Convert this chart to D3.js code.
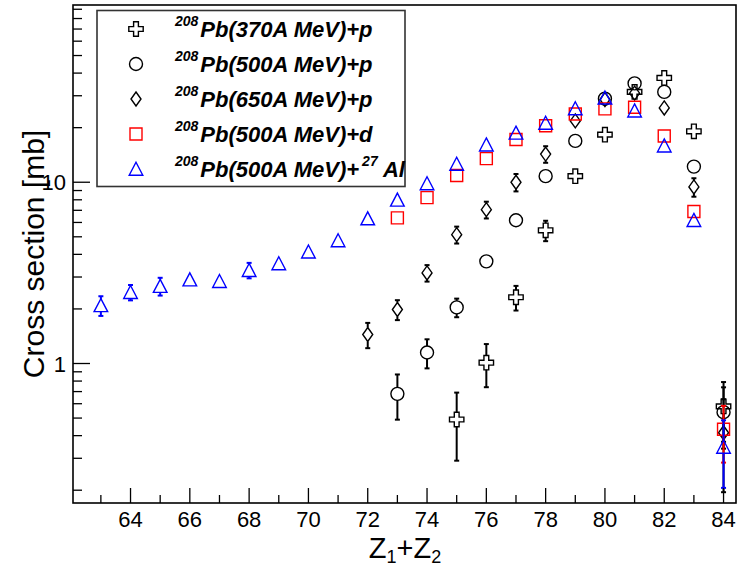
<!DOCTYPE html>
<html><head><meta charset="utf-8">
<script src="https://cdn.jsdelivr.net/npm/d3@7"></script>
<style>body{margin:0;background:#fff}svg{display:block}text{font-family:"Liberation Sans",Arial,Helvetica,sans-serif}</style>
</head><body>
<svg id="c" width="738" height="566"></svg>
<script>
// ---- data ----
const zCross = [75,76,77,78,79,80,81,82,83,84];
const vCross = [0.491,1.01,2.32,5.43,10.8,18.3,31.5,37.6,19.1,0.58];
const eCross = [0.2,0.27,0.36,0.7,0.6,0.9,1.5,1.8,1.0,0.21];

const zCircle = [73,74,75,76,77,78,79,80,81,82,83,84];
const vCircle = [0.68,1.15,2.04,3.66,6.17,10.8,16.9,28.9,35.1,31.5,12.2,0.539];
const eCircle = [0.19,0.21,0.24,0.2,0.3,0.5,0.8,1.4,1.7,1.5,0.6,0.2];

const zDiamond = [72,73,74,75,76,77,78,79,80,81,82,83,84];
const vDiamond = [1.445,1.985,3.16,5.14,7.06,10.0,14.3,21.8,28.6,31.0,25.7,9.42,0.415];
const eDiamond = [0.23,0.25,0.33,0.55,0.75,1.1,1.5,1.8,2.0,2.0,1.8,1.1,0.22];

const zSquare = [73,74,75,76,77,78,79,80,81,82,83,84];
const vSquare = [6.36,8.22,10.9,13.5,17.2,20.5,23.8,25.4,25.9,18.0,6.89,0.434];
const eSquare = [0.4,0.5,0.6,0.8,1.0,1.2,1.4,1.5,1.5,1.1,0.45,0.15];

const zTri = [63,64,65,66,67,68,69,70,71,72,73,74,75,76,77,78,79,80,81,82,83,84];
const vTri = [2.09,2.47,2.67,2.90,2.84,3.27,3.56,4.13,4.77,6.3,7.99,9.83,12.6,16.1,18.7,21.2,25.5,29.2,24.8,15.9,6.17,0.346];
const eTri = [0.26,0.24,0.3,0.1,0.1,0.32,0.15,0.12,0.12,0.2,0.3,0.4,0.5,0.6,0.7,0.8,1.0,1.1,1.0,0.6,0.25,0.14];

const xTicks = [64,66,68,70,72,74,76,78,80,82,84];
const yTickLabels = [1,10];
const legendLabels = [
  ["208","Pb(370A MeV)+p",null,null],
  ["208","Pb(500A MeV)+p",null,null],
  ["208","Pb(650A MeV)+p",null,null],
  ["208","Pb(500A MeV)+d",null,null],
  ["208","Pb(500A MeV)+","27"," Al"]
];

// ---- layout ----
const svg = d3.select("#c");
const L=73, R=736, T=5, B=503;
const x = d3.scaleLinear().domain([62.06,84.42]).range([L,R]);
const y = d3.scaleLog().domain([0.17,95]).range([B,T]);

// ---- marker shapes ----
const shapes = {
  cross: {h:7, path:(()=>{const a=2.4,l=7.2;return `M${-a},${-l}H${a}V${-a}H${l}V${a}H${a}V${l}H${-a}V${a}H${-l}V${-a}H${-a}Z`;})()},
  circle:{h:6.5, path:"M6.5,0A6.5,6.5 0 1,1 -6.5,0A6.5,6.5 0 1,1 6.5,0Z"},
  diamond:{h:7, path:"M0,-7L5,0L0,7L-5,0Z"},
  square:{h:6, path:"M-6,-6H6V6H-6Z"},
  tri:{h:6.5, path:"M0,-6.8L6.8,6.2L-6.8,6.2Z"}
};

const series = [
  {z:zCross,v:vCross,e:eCross,shape:"cross",color:"#000"},
  {z:zCircle,v:vCircle,e:eCircle,shape:"circle",color:"#000"},
  {z:zDiamond,v:vDiamond,e:eDiamond,shape:"diamond",color:"#000"},
  {z:zSquare,v:vSquare,e:eSquare,shape:"square",color:"#ff0000"},
  {z:zTri,v:vTri,e:eTri,shape:"tri",color:"#0000ff"}
];

// ---- data ----
const gData = svg.append("g");
series.forEach(s=>{
  const g = gData.append("g");
  const sh = shapes[s.shape];
  s.z.forEach((z,i)=>{
    const cx = x(z), cy = y(s.v[i]);
    const yt = y(s.v[i]+s.e[i]), yb = y(Math.max(s.v[i]-s.e[i],0.01));
    if (cy - sh.h - yt > 0.5) {
      g.append("line").attr("x1",cx).attr("x2",cx).attr("y1",yt).attr("y2",cy-sh.h)
        .attr("stroke",s.color).attr("stroke-width",2);
      g.append("line").attr("x1",cx-2.5).attr("x2",cx+2.5).attr("y1",yt).attr("y2",yt)
        .attr("stroke",s.color).attr("stroke-width",2);
    }
    if (yb - (cy + sh.h) > 0.5) {
      g.append("line").attr("x1",cx).attr("x2",cx).attr("y1",cy+sh.h).attr("y2",yb)
        .attr("stroke",s.color).attr("stroke-width",2);
      g.append("line").attr("x1",cx-2.5).attr("x2",cx+2.5).attr("y1",yb).attr("y2",yb)
        .attr("stroke",s.color).attr("stroke-width",2);
    }
    g.append("path").attr("d",sh.path).attr("transform",`translate(${cx},${cy})`)
      .attr("fill","none").attr("stroke",s.color).attr("stroke-width",1.4);
  });
});

// ---- axes ----
const ax = svg.append("g");
ax.append("rect").attr("x",L).attr("y",T).attr("width",R-L).attr("height",B-T)
  .attr("fill","none").attr("stroke","#000").attr("stroke-width",1.6);
for (let v=63; v<=84; v++) {
  const major = v%2===0;
  ax.append("line").attr("x1",x(v)).attr("x2",x(v)).attr("y1",B).attr("y2",B-(major?15:8))
    .attr("stroke","#000").attr("stroke-width",1.3);
}
xTicks.forEach(v=>{
  ax.append("text").attr("x",x(v)).attr("y",527).attr("text-anchor","middle")
    .attr("font-size",22).text(v);
});
const yMinor = [];
[0.1,1,10].forEach(d=>{for(let k=1;k<=9;k++){const v=d*k; if(v>=0.17&&v<=95) yMinor.push(v);}});
yMinor.forEach(v=>{
  const major = yTickLabels.includes(v);
  ax.append("line").attr("x1",L).attr("x2",L+(major?17:9)).attr("y1",y(v)).attr("y2",y(v))
    .attr("stroke","#000").attr("stroke-width",1.3);
});
yTickLabels.forEach(v=>{
  ax.append("text").attr("x",L-7).attr("y",y(v)+8).attr("text-anchor","end")
    .attr("font-size",22).text(v);
});
// axis titles
const xt = ax.append("text").attr("x",405).attr("y",558).attr("text-anchor","middle").attr("font-size",29);
xt.append("tspan").text("Z");
xt.append("tspan").attr("font-size",18).attr("dy",5).text("1");
xt.append("tspan").attr("dy",-5).text("+Z");
xt.append("tspan").attr("font-size",18).attr("dy",5).text("2");
ax.append("text").attr("transform","translate(44,254) rotate(-90)").attr("text-anchor","middle")
  .attr("font-size",30).text("Cross section [mb]");

// ---- legend ----
const lg = svg.append("g");
lg.append("rect").attr("x",97).attr("y",10.5).attr("width",308).attr("height",176)
  .attr("fill","#fff").attr("stroke","#333").attr("stroke-width",1.6);
series.forEach((s,i)=>{
  const cy = 29 + i*35;
  lg.append("path").attr("d",shapes[s.shape].path).attr("transform",`translate(136,${cy})`)
    .attr("fill","none").attr("stroke",s.color).attr("stroke-width",1.4);
  const lab = legendLabels[i];
  const t = lg.append("text").attr("x",175).attr("y",cy+8).attr("font-weight","bold")
    .attr("font-style","italic").attr("font-size",22);
  t.append("tspan").attr("font-size",14).attr("dy",-11).text(lab[0]);
  t.append("tspan").attr("dy",11).attr("dx",2).text(lab[1]);
  if (lab[2]) {
    t.append("tspan").attr("font-size",14).attr("dy",-11).attr("dx",3).text(lab[2]);
    t.append("tspan").attr("dy",11).text(lab[3]);
  }
});
</script>
</body></html>
